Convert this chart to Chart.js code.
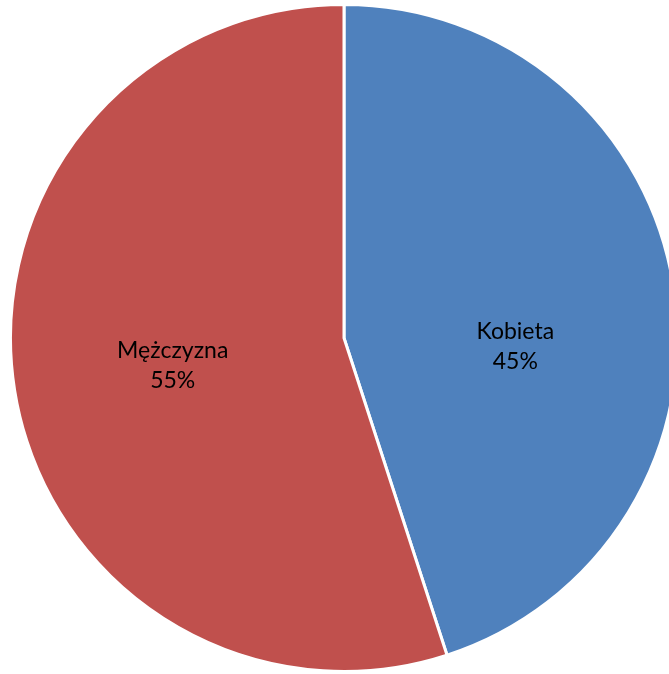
<!DOCTYPE html>
<html>
<head>
<meta charset="utf-8">
<script src="https://cdn.jsdelivr.net/npm/chart.js@4"></script>
<style>
    html, body { margin: 0; padding: 0; background: #fff; overflow: hidden; }
    #wrap { position: relative; width: 688px; height: 676px; }
</style>
</head>
<body>
<div id="wrap"><canvas id="chart"></canvas></div>
<script>
const categories = ['Kobieta', 'Mężczyzna'];
const shares = [45, 55];
const sliceColors = ['#4F81BD', '#C0504D'];

// etykiety w środku wycinków (nazwa + procent)
const sliceLabels = {
    id: 'sliceLabels',
    afterDatasetsDraw(chart, args, opts) {
        const ctx = chart.ctx;
        const meta = chart.getDatasetMeta(0);
        const total = shares.reduce((a, b) => a + b, 0);
        ctx.save();
        ctx.font = opts.font;
        ctx.fillStyle = '#000';
        ctx.textAlign = 'center';
        ctx.textBaseline = 'middle';
        meta.data.forEach((arc, i) => {
            const mid = (arc.startAngle + arc.endAngle) / 2;
            const r = arc.outerRadius * opts.ratio;
            const nudge = opts.nudgeY[i] || 0;
            const x = arc.x + Math.cos(mid) * r;
            const y = arc.y + Math.sin(mid) * r + nudge;
            const pct = Math.round(shares[i] / total * 100) + '%';
            ctx.fillText(categories[i], x, y - opts.lineGap / 2);
            ctx.fillText(pct, x, y + opts.lineGap / 2);
        });
        ctx.restore();
    }
};

new Chart(document.getElementById('chart').getContext('2d'), {
    type: 'pie',
    data: {
        labels: categories,
        datasets: [{
            data: shares,
            backgroundColor: sliceColors,
            borderColor: '#fff',
            borderWidth: 3
        }]
    },
    options: {
        responsive: true,
        maintainAspectRatio: false,
        animation: false,
        layout: { padding: { left: 9, right: 9, top: 3, bottom: 3 } },
        plugins: {
            legend: { display: false },
            tooltip: { enabled: false },
            sliceLabels: {
                font: '23px Lato',
                ratio: 0.52,
                lineGap: 30,
                nudgeY: [36, 0]
            }
        }
    },
    plugins: [sliceLabels]
});
</script>
</body>
</html>
